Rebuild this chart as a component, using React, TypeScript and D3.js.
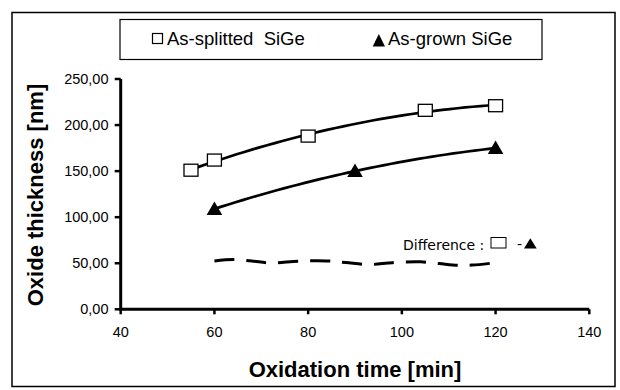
import React from "react";
import * as d3 from "d3";

const xTicks = [40, 60, 80, 100, 120, 140];
const yTicks = [0, 50, 100, 150, 200, 250];
const yTickLabels = ["0,00", "50,00", "100,00", "150,00", "200,00", "250,00"];

const splittedX = [55, 60, 80, 105, 120];
const splittedY = [151, 162, 188, 216, 221];
const grownX = [60, 90, 120];
const grownY = [109, 150, 175];
const diffX = [60, 64, 68, 72, 78, 84, 88, 93, 98, 104, 108, 112, 115, 119];
const diffY = [52.5, 54, 52.5, 50.3, 52.3, 52.5, 50.8, 48.6, 50.6, 51.5, 49.6, 47.8, 48, 50];

const W = 620;
const H = 390;

function quadFit(xs: number[], ys: number[]) {
  // least-squares quadratic trendline (as in a spreadsheet polynomial trendline)
  const n = xs.length;
  let s0 = n, s1 = 0, s2 = 0, s3 = 0, s4 = 0, t0 = 0, t1 = 0, t2 = 0;
  for (let i = 0; i < n; i++) {
    const x = xs[i], y = ys[i];
    s1 += x; s2 += x * x; s3 += x * x * x; s4 += x * x * x * x;
    t0 += y; t1 += x * y; t2 += x * x * y;
  }
  const M = [
    [s0, s1, s2, t0],
    [s1, s2, s3, t1],
    [s2, s3, s4, t2],
  ];
  for (let c = 0; c < 3; c++) {
    let p = c;
    for (let r = c + 1; r < 3; r++) if (Math.abs(M[r][c]) > Math.abs(M[p][c])) p = r;
    [M[c], M[p]] = [M[p], M[c]];
    for (let r = 0; r < 3; r++) {
      if (r === c) continue;
      const f = M[r][c] / M[c][c];
      for (let k = c; k < 4; k++) M[r][k] -= f * M[c][k];
    }
  }
  const a = M[0][3] / M[0][0], b = M[1][3] / M[1][1], cc = M[2][3] / M[2][2];
  return (x: number) => a + b * x + cc * x * x;
}

export default function App() {
  const x = d3.scaleLinear().domain([40, 140]).range([120.7, 589.3]);
  const y = d3.scaleLinear().domain([0, 250]).range([309.3, 79]);

  const trend = (xs: number[], ys: number[]) => {
    const f = quadFit(xs, ys);
    const x0 = d3.min(xs) as number, x1 = d3.max(xs) as number;
    const pts: [number, number][] = d3.range(0, 41).map((i) => {
      const xv = x0 + ((x1 - x0) * i) / 40;
      return [x(xv), y(f(xv))];
    });
    return d3.line()(pts) as string;
  };

  const diffLine = d3
    .line<number>()
    .x((_, i) => x(diffX[i]))
    .y((d) => y(d))
    .curve(d3.curveCatmullRom)(diffY) as string;

  const font = "'Liberation Sans', Arial, sans-serif";

  return (
    <svg
      width={W}
      height={H}
      style={{ position: "absolute", left: 0, top: 0, background: "#fff" }}
      fontFamily={font}
    >
      <rect x={0} y={0} width={W} height={H} fill="#fff" />
      <rect x={12} y={12.5} width={603} height={374} fill="none" stroke="#000" strokeWidth={1.5} />

      {/* legend */}
      <rect x={120} y={19.5} width={422} height={40} fill="none" stroke="#000" strokeWidth={1.2} />
      <rect x={152.5} y={33.5} width={10} height={10} fill="#fff" stroke="#000" strokeWidth={1.2} />
      <text x={167} y={45} fontSize={18.5} fill="#000">As-splitted&#160;&#160;SiGe</text>
      <path d="M372.7,46.5 L385,46.5 L378.85,34 Z" fill="#000" />
      <text x={388} y={45} fontSize={18.5} fill="#000">As-grown SiGe</text>

      {/* axes */}
      <line x1={x(40)} x2={x(140)} y1={y(0)} y2={y(0)} stroke="#000" strokeWidth={3} />
      <line x1={x(40)} x2={x(40)} y1={y(0) + 1.5} y2={y(250)} stroke="#000" strokeWidth={3} />
      {xTicks.map((t) => (
        <g key={"xt" + t}>
          <line x1={x(t)} x2={x(t)} y1={y(0)} y2={y(0) + 5} stroke="#000" strokeWidth={2.5} />
          <text x={x(t)} y={337} fontSize={14.5} textAnchor="middle" fill="#000">{t}</text>
        </g>
      ))}
      {yTicks.map((t, i) => (
        <g key={"yt" + t}>
          <line x1={x(40) - 6} x2={x(40)} y1={y(t)} y2={y(t)} stroke="#000" strokeWidth={2.5} />
          <text x={108.5} y={y(t) + 5} fontSize={14.5} textAnchor="end" fill="#000">{yTickLabels[i]}</text>
        </g>
      ))}

      <text x={355} y={377} fontSize={22} fontWeight="bold" textAnchor="middle" fill="#000">
        Oxidation time [min]
      </text>
      <text
        transform="translate(43,195) rotate(-90)"
        fontSize={22}
        fontWeight="bold"
        textAnchor="middle"
        fill="#000"
      >
        Oxide thickness [nm]
      </text>

      {/* trend lines */}
      <path d={trend(splittedX, splittedY)} fill="none" stroke="#000" strokeWidth={2.7} />
      <path d={trend(grownX, grownY)} fill="none" stroke="#000" strokeWidth={2.7} />
      <path d={diffLine} fill="none" stroke="#000" strokeWidth={3} strokeDasharray="20,12" />

      {/* markers */}
      {splittedX.map((xv, i) => (
        <rect
          key={"s" + i}
          x={x(xv) - 7}
          y={y(splittedY[i]) - 6}
          width={14}
          height={12}
          fill="#fff"
          stroke="#000"
          strokeWidth={1.3}
        />
      ))}
      {grownX.map((xv, i) => (
        <path
          key={"g" + i}
          d={`M${x(xv) - 7.8},${y(grownY[i]) + 6} L${x(xv) + 7.8},${y(grownY[i]) + 6} L${x(xv)},${y(grownY[i]) - 7.5} Z`}
          fill="#000"
        />
      ))}

      {/* difference label */}
      <text x={403} y={249.5} fontSize={14} fontFamily="'DejaVu Sans', sans-serif" fill="#000">Difference :</text>
      <rect x={491} y={237.5} width={15} height={10.5} fill="#fff" stroke="#000" strokeWidth={1} />
      <text x={517} y={249} fontSize={14} fontFamily="'DejaVu Sans', sans-serif" fill="#000">-</text>
      <path d="M524,248.5 L536.7,248.5 L530.35,238.3 Z" fill="#000" />
    </svg>
  );
}
